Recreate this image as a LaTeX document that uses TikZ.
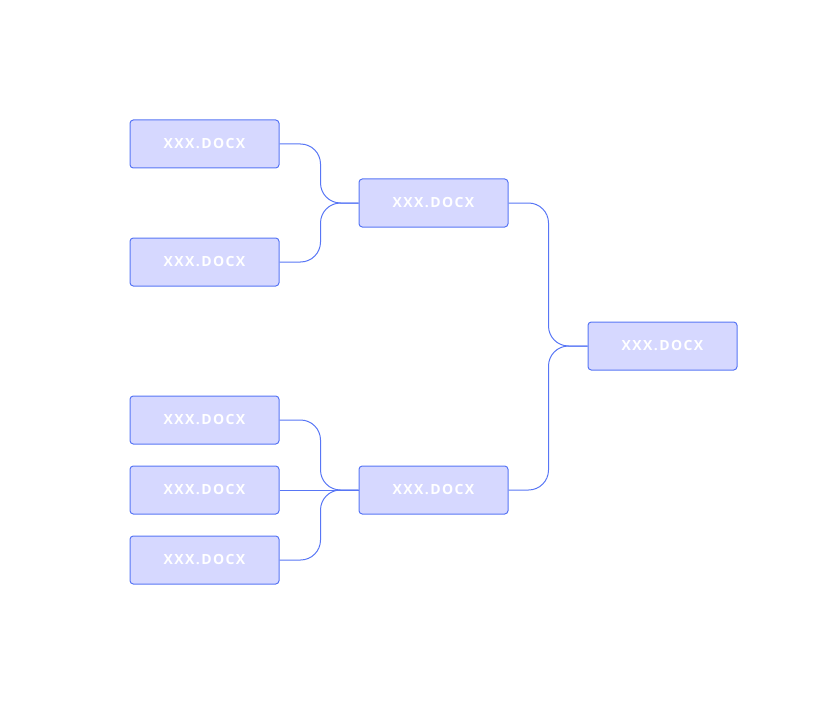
\documentclass[tikz,border=0pt]{standalone}
\usepackage{fontspec}
\newfontfamily\boxfont[LetterSpace=10]{Open Sans}
\definecolor{boxfill}{RGB}{214,216,255}
\definecolor{boxline}{RGB}{88,118,245}
\tikzset{every picture/.style={line width=0.75pt}}
\tikzset{
  docbox/.style={draw=boxline, fill=boxfill, rounded corners=2.5pt, minimum width=111.75pt, minimum height=36pt,
    inner sep=0pt, text=white, font=\boxfont\bfseries\fontsize{10.5}{12}\selectfont},
  link/.style={draw=boxline, rounded corners=15pt}
}
\begin{document}
\begin{tikzpicture}[x=0.75pt,y=0.75pt,yscale=-1,xscale=1]
\useasboundingbox (0,0) rectangle (830,720);

% Left Boxes
\node[docbox] (leftA) at (204.5,144) {XXX.DOCX};
\node[docbox] (leftB) at (204.5,262) {XXX.DOCX};
\node[docbox] (leftC) at (204.5,420) {XXX.DOCX};
\node[docbox] (leftD) at (204.5,490) {XXX.DOCX};
\node[docbox] (leftE) at (204.5,560) {XXX.DOCX};
% Middle Boxes
\node[docbox] (midA) at (433.5,203) {XXX.DOCX};
\node[docbox] (midB) at (433.5,490) {XXX.DOCX};
% Right Box
\node[docbox] (rightA) at (662.5,346) {XXX.DOCX};

% Connectors
\draw[link] (leftA.east) -- ++(41,0) |- (midA.west);
\draw[link] (leftB.east) -- ++(41,0) |- (midA.west);
\draw[link] (leftC.east) -- ++(41,0) |- (midB.west);
\draw[link] (leftD.east) -- (midB.west);
\draw[link] (leftE.east) -- ++(41,0) |- (midB.west);
\draw[link] (midA.east) -- ++(40,0) |- (rightA.west);
\draw[link] (midB.east) -- ++(40,0) |- (rightA.west);

\end{tikzpicture}
\end{document}
